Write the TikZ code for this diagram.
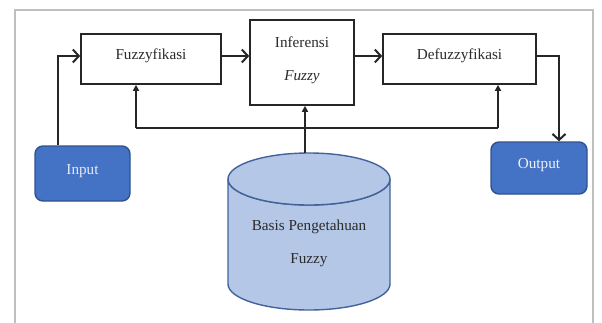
\documentclass[tikz,border=0pt]{standalone}
\usepackage{fontspec}
\setmainfont{Liberation Serif}
\usetikzlibrary{arrows.meta}
\definecolor{boxblue}{HTML}{4472C4}
\definecolor{boxedge}{HTML}{2F528F}
\definecolor{dbfill}{HTML}{B4C7E7}
\definecolor{dbedge}{HTML}{41639A}
\definecolor{txt}{HTML}{2B2B2B}
\definecolor{framegray}{HTML}{BFBFBF}
\begin{document}
\begin{tikzpicture}[x=1pt,y=-1pt,
  lbl/.style={text=txt,font=\fontsize{15.2}{18}\selectfont},
  procbox/.style={draw=black!85,line width=1.6pt,fill=white,inner sep=0pt},
  iobox/.style={draw=boxedge,line width=1.4pt,fill=boxblue,rounded corners=8pt,inner sep=0pt},
  mainline/.style={line width=2pt,draw=black!85},
  mainarrow/.style={mainline,-{Straight Barb[length=6pt,width=13pt,line width=2pt]}},
  fbarrow/.style={line width=1.8pt,draw=black!85,-{Triangle[length=6pt,width=6pt]}}]
\useasboundingbox (0,0) rectangle (602,322);
\draw[framegray,line width=1.6pt] (15,330) -- (15,10) -- (593,10) -- (593,330);

% process boxes
\node[procbox,minimum width=140pt,minimum height=50pt] (fuz) at (151,59) {};
\node[lbl] (fuzt) at (151,56) {Fuzzyfikasi};
\node[procbox,minimum width=104pt,minimum height=85pt] (inf) at (302,62.5) {};
\node[lbl] (inft) at (302,42) {Inferensi};
\node[lbl,font=\fontsize{15.2}{18}\selectfont\itshape] (inff) at (302,77) {Fuzzy};
\node[procbox,minimum width=153pt,minimum height=50pt] (def) at (459.5,59) {};
\node[lbl] (deft) at (459.5,56) {Defuzzyfikasi};

% io boxes
\node[iobox,minimum width=95pt,minimum height=55pt] (in) at (82.5,173.5) {};
\node[lbl,text=white!85!boxblue] (int) at (82.5,171) {Input};
\node[iobox,minimum width=96pt,minimum height=52pt] (out) at (539,168) {};
\node[lbl,text=white!90!boxblue] (outt) at (539,165) {Output};

% cylinder
\coordinate (dbtop) at (305,153);
\filldraw[fill=dbfill,draw=dbedge,line width=1.4pt]
  (228,179) -- (228,284) arc[start angle=180,end angle=360,x radius=81pt,y radius=26pt]
  -- (390,179) arc[start angle=0,end angle=-180,x radius=81pt,y radius=26pt] -- cycle;
\filldraw[fill=dbfill,draw=dbedge,line width=1.4pt] (309,179) ellipse[x radius=81pt,y radius=26pt];
\node[lbl] (dbt1) at (309,227) {Basis Pengetahuan};
\node[lbl] (dbt2) at (309,260) {Fuzzy};

% connectors
\draw[mainarrow] (in.north -| 58,0) -- (58,56) -- (fuz.west |- 0,56);
\draw[mainarrow] (fuz.east |- 0,56) -- (inf.west |- 0,56);
\draw[mainarrow] (inf.east |- 0,56) -- (def.west |- 0,56);
\draw[mainarrow] (def.east |- 0,56) -- (559,56) -- (out.north -| 559,0);
\coordinate (fbl) at (136,128);
\coordinate (fbr) at (498,128);
\draw[line width=1.8pt,draw=black!85] (fbl) -- (fbr);
\draw[fbarrow] (fbl) -- (fuz.south -| fbl);
\draw[fbarrow] (fbr) -- (def.south -| fbr);
\draw[fbarrow] (dbtop) -- (inf.south -| dbtop);
\end{tikzpicture}
\end{document}
